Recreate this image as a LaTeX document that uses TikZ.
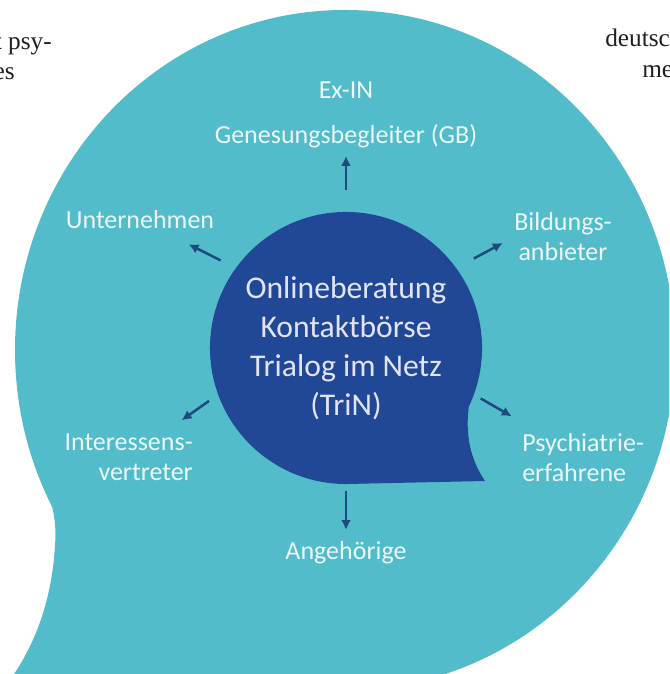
\documentclass[tikz,border=0pt]{standalone}
\usepackage{fontspec}
\setmainfont{Carlito}
\newfontfamily\pagefont{Liberation Serif}
\usetikzlibrary{arrows.meta}

\definecolor{bubbleTeal}{RGB}{82,188,203}
\definecolor{trinBlue}{RGB}{32,72,150}
\definecolor{arrowBlue}{RGB}{30,75,125}
\definecolor{labelWhite}{RGB}{236,248,250}
\definecolor{trinText}{RGB}{226,228,246}

\tikzset{
	grp/.style={text=labelWhite, inner sep=0pt, font=\fontsize{18.5}{21.3}\selectfont},
	pagetext/.style={text=black!88, inner sep=0pt, font=\pagefont\fontsize{18}{21}\selectfont},
	arr/.style={draw=arrowBlue, line width=1.8pt, -{Latex[length=7pt,width=7pt]}}
}

\begin{document}
\begin{tikzpicture}[x=0.025cm, y=0.025cm]
		
		\useasboundingbox (0,0) rectangle (669,674);
		\clip (0,0) rectangle (669,674);
		
		%Page text around the figure
		\node (pageA) at (52,624) [pagetext, anchor=base east]{t psy-};
		\node (pageB) at (15,594) [pagetext, anchor=base east]{es};
		\node (pageC) at (605,627) [pagetext, anchor=base west]{deutsch};
		\node (pageD) at (642,596) [pagetext, anchor=base west]{me};
		
		%Big bubble
		\fill[bubbleTeal] (345,324) ellipse [x radius=330, y radius=340];
		\fill[bubbleTeal] (28,234) .. controls (45,194) and (58,164) .. (55,129)
		.. controls (52,74) and (35,29) .. (10,-6) -- (300,-16) -- (300,234) -- cycle;
		
		%Inner bubble
		\fill[trinBlue] (469,269) .. controls (465,240) and (470,215) .. (485,193)
		-- (346,190) -- (400,260) -- cycle;
		\node (trin) at (346,326) [circle, fill=trinBlue, minimum size=6.8cm, inner sep=0pt, 
		outer sep=0pt, text=trinText, align=center, font=\fontsize{22.5}{27.7}\selectfont]
		{Onlineberatung\\Kontaktbörse\\Trialog im Netz\\(TriN)};
		
		%Groups
		\node (exin) at (346,526) [grp, anchor=south, align=center]{Ex-IN\\[10.7pt]Genesungsbegleiter (GB)};
		\node (unt) at (140,454) [grp]{Unternehmen};
		\node (bild) at (563,437) [grp, align=center]{Bildungs-\\anbieter};
		\node (inter) at (193,216.5) [grp, anchor=east, align=right]{Interessens-\\vertreter};
		\node (psy) at (522,216.5) [grp, anchor=west, align=left]{Psychiatrie-\\erfahrene};
		\node (ang) at (346,121) [grp]{Angehörige};
		
		%Arrows
		\draw[arr, shorten <=0.55cm, shorten >=0.2cm] (trin.north) -- (exin.south);
		\draw[arr, shorten <=0.425cm, shorten >=1.36cm] (trin.144) -- (unt.center);
		\draw[arr, shorten <=0.5cm, shorten >=0.32cm] (trin.36) -- (bild.west);
		\draw[arr, shorten <=0.28cm, shorten >=1.62cm] (trin.200) -- (inter.center);
		\draw[arr, shorten <=0.2cm, shorten >=2.06cm] (trin.-20) -- (psy.center);
		\draw[arr, shorten <=0.175cm, shorten >=0.29cm] (trin.south) -- (ang.north);
		
\end{tikzpicture}
\end{document}
